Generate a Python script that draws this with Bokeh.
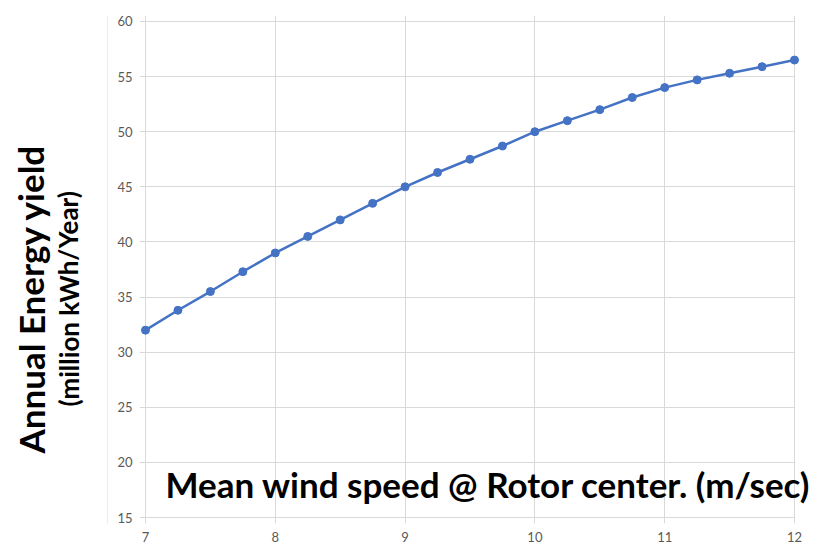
from bokeh.plotting import figure
from bokeh.layouts import row, column
from bokeh.models import Range1d, FixedTicker, Label, Span, BoxAnnotation
from bokeh.embed import file_html
from bokeh.resources import INLINE

# ---- data ----
wind_speed = [7.0, 7.25, 7.5, 7.75, 8.0, 8.25, 8.5, 8.75, 9.0, 9.25, 9.5,
              9.75, 10.0, 10.25, 10.5, 10.75, 11.0, 11.25, 11.5, 11.75, 12.0]
energy_yield = [32.0, 33.8, 35.5, 37.3, 39.0, 40.5, 42.0, 43.5, 45.0, 46.3, 47.5,
                48.7, 50.0, 51.0, 52.0, 53.1, 54.0, 54.7, 55.3, 55.9, 56.5]
x_ticks = [7, 8, 9, 10, 11, 12]
y_ticks = [15, 20, 25, 30, 35, 40, 45, 50, 55, 60]

x_title = "Mean wind speed @ Rotor center. (m/sec)"
y_title = "Annual Energy yield"
y_subtitle = "(million kWh/Year)"

BLUE = "#4472C4"
GRID = "#d9d9d9"
TICK = "#595959"

W = 815
TOP_H = 5
H = 551 - TOP_H
LEFT_W = 108

# ---- thin top strip: top edge of the chart-area box ----
pt = figure(width=W, height=TOP_H, output_backend="svg", toolbar_location=None,
            x_range=Range1d(0, W), y_range=Range1d(TOP_H, 0),
            x_axis_type=None, y_axis_type=None,
            min_border_left=0, min_border_right=0, min_border_top=0,
            min_border_bottom=0)
pt.outline_line_color = None
pt.xgrid.visible = False
pt.ygrid.visible = False
pt.add_layout(BoxAnnotation(left=LEFT_W - 0.5, right=W + 10, top=4.5, bottom=TOP_H + 10,
                            fill_alpha=0, line_color=GRID, line_width=1))

# ---- left panel holding the rotated y titles ----
pl = figure(width=LEFT_W, height=H, output_backend="svg", toolbar_location=None,
            x_range=Range1d(0, LEFT_W), y_range=Range1d(H, 0),
            x_axis_type=None, y_axis_type=None,
            min_border_left=0, min_border_right=0, min_border_top=0,
            min_border_bottom=0)
pl.outline_line_color = None
pl.xgrid.visible = False
pl.ygrid.visible = False
pl.add_layout(Span(location=LEFT_W - 0.5, dimension="height",
                   line_color=GRID, line_width=1))
pl.add_layout(Label(x=30, y=309.5 - TOP_H, text=y_title, angle=1.5708,
                    text_font="Lato", text_font_style="bold",
                    text_font_size="35px", text_color="black",
                    text_baseline="middle", text_align="center"))
pl.add_layout(Label(x=68, y=309.5 - TOP_H, text=y_subtitle, angle=1.5708,
                    text_font="Lato", text_font_style="bold",
                    text_font_size="26px", text_color="black",
                    text_baseline="middle", text_align="center"))

# ---- main chart ----
p = figure(width=W - LEFT_W, height=H, output_backend="svg",
           toolbar_location=None,
           x_range=Range1d(6.9538, 12.1618), y_range=Range1d(14.46, 60.54),
           min_border_left=31, min_border_right=0, min_border_top=15 - TOP_H,
           min_border_bottom=28)
p.outline_line_color = None

p.xgrid.ticker = FixedTicker(ticks=x_ticks)
p.ygrid.ticker = FixedTicker(ticks=y_ticks)
for g in (p.xgrid, p.ygrid):
    g.grid_line_color = GRID
    g.grid_line_width = 1

# keep horizontal gridlines from running past the last category
p.add_layout(BoxAnnotation(left=12.006, fill_color="white", fill_alpha=1,
                           line_color=None, level="underlay"))

p.xaxis.ticker = FixedTicker(ticks=x_ticks)
p.yaxis.ticker = FixedTicker(ticks=y_ticks)
for ax in (p.xaxis, p.yaxis):
    ax.axis_line_color = None
    ax.major_tick_line_color = None
    ax.minor_tick_line_color = None
    ax.major_label_text_font = "Lato"
    ax.major_label_text_font_size = "13px"
    ax.major_label_text_color = TICK
p.xaxis.major_label_standoff = 2
p.yaxis.major_label_standoff = 1

p.line(wind_speed, energy_yield, line_color=BLUE, line_width=2.5)
p.scatter(wind_speed, energy_yield, size=8, fill_color=BLUE, line_color=BLUE)

p.add_layout(Label(x=26, y=40, x_units="screen", y_units="screen",
                   text=x_title, text_font="Lato", text_font_style="bold",
                   text_font_size="35px", text_color="black",
                   text_baseline="middle", text_align="left"))

layout = column(pt, row(pl, p, spacing=0), spacing=0)
open("out.html", "w").write(file_html(layout, INLINE))
